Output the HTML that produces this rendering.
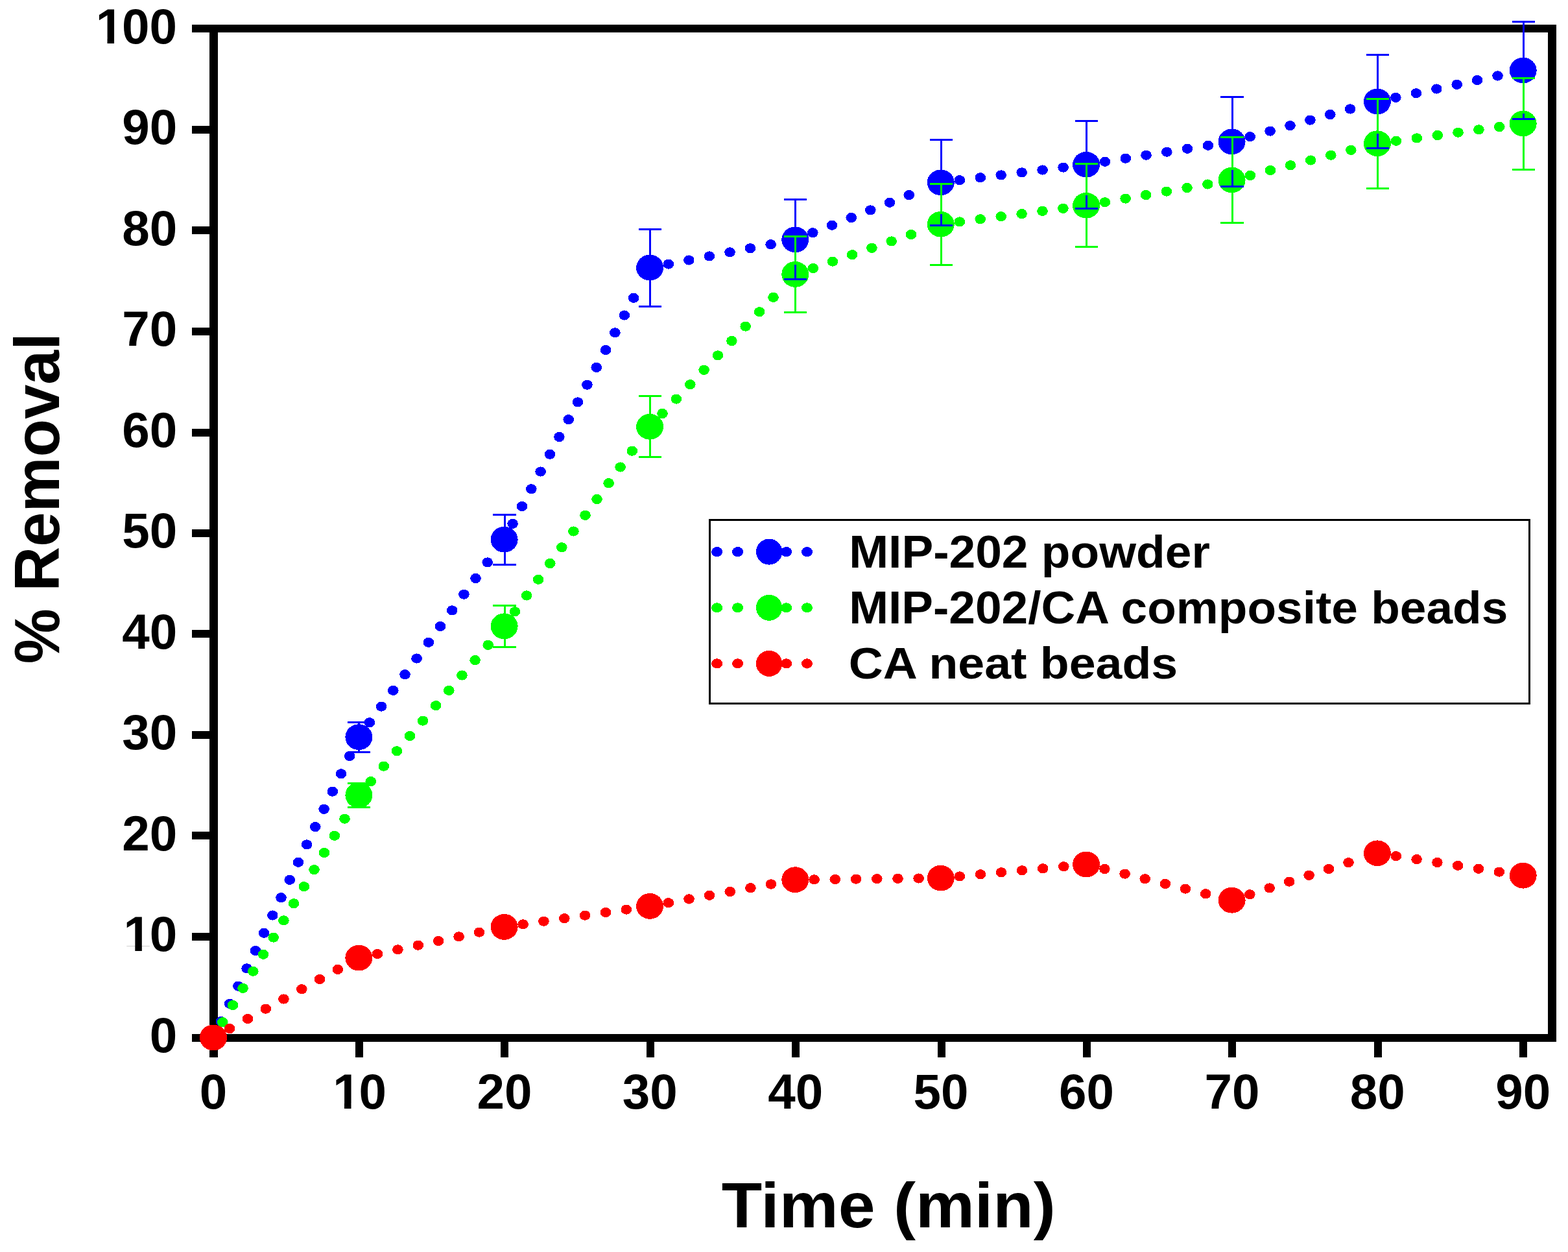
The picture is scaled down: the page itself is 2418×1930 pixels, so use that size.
<!DOCTYPE html>
<html lang="en"><head><meta charset="utf-8"><title>% Removal vs Time (min)</title>
<style>html,body{margin:0;padding:0;background:#fff}svg{display:block}</style></head>
<body>
<svg width="2418" height="1930" viewBox="0 0 2418 1930" shape-rendering="crispEdges" font-family="'Liberation Sans', sans-serif" font-weight="bold">
<defs><clipPath id="c1"><path d="M-5,-80H200V5H57V-10.6H39.9V5H26.1V-10.6H-5Z"/></clipPath></defs>
<rect width="2418" height="1930" fill="#fff"/>
<g fill="#000" shape-rendering="crispEdges">
<rect x="296" y="38" width="2104" height="12"/>
<rect x="296" y="1594" width="2104" height="12"/>
<rect x="323" y="38" width="13" height="1592"/>
<rect x="2387" y="38" width="13" height="1568"/>
<rect x="296" y="194" width="28" height="12"/>
<rect x="296" y="349" width="28" height="12"/>
<rect x="296" y="505" width="28" height="12"/>
<rect x="296" y="661" width="28" height="12"/>
<rect x="296" y="816" width="28" height="12"/>
<rect x="296" y="971" width="28" height="12"/>
<rect x="296" y="1127" width="28" height="12"/>
<rect x="296" y="1282" width="28" height="12"/>
<rect x="296" y="1438" width="28" height="12"/>
<rect x="548" y="1600" width="12" height="30"/>
<rect x="772" y="1600" width="12" height="30"/>
<rect x="997" y="1600" width="12" height="30"/>
<rect x="1221" y="1600" width="12" height="30"/>
<rect x="1446" y="1600" width="12" height="30"/>
<rect x="1670" y="1600" width="12" height="30"/>
<rect x="1894" y="1600" width="12" height="30"/>
<rect x="2119" y="1600" width="12" height="30"/>
<rect x="2343" y="1600" width="12" height="30"/>
</g>
<g fill="#000">
<text transform="matrix(0.76400 0 0 0.76408 145.57 66.94)" font-size="100" clip-path="url(#c1)"><tspan dx="2.8">1</tspan><tspan dx="-2.8">00</tspan></text>
<text transform="matrix(0.76400 0 0 0.76408 188.35 222.44)" font-size="100">90</text>
<text transform="matrix(0.76400 0 0 0.76408 188.35 377.94)" font-size="100">80</text>
<text transform="matrix(0.76400 0 0 0.76408 188.35 533.44)" font-size="100">70</text>
<text transform="matrix(0.76400 0 0 0.76408 188.35 688.94)" font-size="100">60</text>
<text transform="matrix(0.76400 0 0 0.76408 188.35 844.44)" font-size="100">50</text>
<text transform="matrix(0.76400 0 0 0.76408 188.35 999.94)" font-size="100">40</text>
<text transform="matrix(0.76400 0 0 0.76408 188.35 1155.44)" font-size="100">30</text>
<text transform="matrix(0.76400 0 0 0.76408 188.35 1310.94)" font-size="100">20</text>
<text transform="matrix(0.76400 0 0 0.76408 188.35 1466.44)" font-size="100" clip-path="url(#c1)"><tspan dx="2.8">1</tspan><tspan dx="-2.8">0</tspan></text>
<text transform="matrix(0.76400 0 0 0.76408 230.75 1621.94)" font-size="100">0</text>
<text transform="matrix(0.76400 0 0 0.76338 307.86 1709.04)" font-size="100">0</text>
<text transform="matrix(0.76400 0 0 0.76338 511.02 1709.04)" font-size="100" clip-path="url(#c1)"><tspan dx="2.8">1</tspan><tspan dx="-2.8">0</tspan></text>
<text transform="matrix(0.76400 0 0 0.76338 735.42 1709.04)" font-size="100">20</text>
<text transform="matrix(0.76400 0 0 0.76338 959.82 1709.04)" font-size="100">30</text>
<text transform="matrix(0.76400 0 0 0.76338 1184.22 1709.04)" font-size="100">40</text>
<text transform="matrix(0.76400 0 0 0.76338 1408.62 1709.04)" font-size="100">50</text>
<text transform="matrix(0.76400 0 0 0.76338 1633.02 1709.04)" font-size="100">60</text>
<text transform="matrix(0.76400 0 0 0.76338 1857.42 1709.04)" font-size="100">70</text>
<text transform="matrix(0.76400 0 0 0.76338 2081.82 1709.04)" font-size="100">80</text>
<text transform="matrix(0.76400 0 0 0.76338 2306.22 1709.04)" font-size="100">90</text>
<text transform="matrix(1.02229 0 0 0.97529 1112.78 1892.10)" font-size="100">Time (min)</text>
<text transform="matrix(0 -0.95630 0.98547 0 91.00 1023.29)" font-size="100">% Removal</text>
</g>
<g fill="#0000ff">
<ellipse cx="341.0" cy="1574.6" rx="8.3" ry="7.6"/>
<ellipse cx="354.2" cy="1547.3" rx="8.3" ry="7.6"/>
<ellipse cx="367.4" cy="1520.1" rx="8.3" ry="7.6"/>
<ellipse cx="380.6" cy="1492.8" rx="8.3" ry="7.6"/>
<ellipse cx="393.9" cy="1465.5" rx="8.3" ry="7.6"/>
<ellipse cx="407.1" cy="1438.3" rx="8.3" ry="7.6"/>
<ellipse cx="420.3" cy="1411.0" rx="8.3" ry="7.6"/>
<ellipse cx="433.5" cy="1383.7" rx="8.3" ry="7.6"/>
<ellipse cx="446.7" cy="1356.4" rx="8.3" ry="7.6"/>
<ellipse cx="459.9" cy="1329.2" rx="8.3" ry="7.6"/>
<ellipse cx="473.1" cy="1301.9" rx="8.3" ry="7.6"/>
<ellipse cx="486.3" cy="1274.6" rx="8.3" ry="7.6"/>
<ellipse cx="499.6" cy="1247.3" rx="8.3" ry="7.6"/>
<ellipse cx="512.8" cy="1220.1" rx="8.3" ry="7.6"/>
<ellipse cx="526.0" cy="1192.8" rx="8.3" ry="7.6"/>
<ellipse cx="539.2" cy="1165.5" rx="8.3" ry="7.6"/>
<ellipse cx="569.9" cy="1113.8" rx="8.3" ry="7.6"/>
<ellipse cx="588.1" cy="1089.1" rx="8.3" ry="7.6"/>
<ellipse cx="606.3" cy="1064.4" rx="8.3" ry="7.6"/>
<ellipse cx="624.5" cy="1039.7" rx="8.3" ry="7.6"/>
<ellipse cx="642.6" cy="1015.0" rx="8.3" ry="7.6"/>
<ellipse cx="660.8" cy="990.3" rx="8.3" ry="7.6"/>
<ellipse cx="679.0" cy="965.6" rx="8.3" ry="7.6"/>
<ellipse cx="697.2" cy="940.9" rx="8.3" ry="7.6"/>
<ellipse cx="715.4" cy="916.2" rx="8.3" ry="7.6"/>
<ellipse cx="733.5" cy="891.5" rx="8.3" ry="7.6"/>
<ellipse cx="751.7" cy="866.9" rx="8.3" ry="7.6"/>
<ellipse cx="790.6" cy="807.4" rx="8.3" ry="7.6"/>
<ellipse cx="805.0" cy="780.6" rx="8.3" ry="7.6"/>
<ellipse cx="819.3" cy="753.8" rx="8.3" ry="7.6"/>
<ellipse cx="833.7" cy="727.0" rx="8.3" ry="7.6"/>
<ellipse cx="848.0" cy="700.3" rx="8.3" ry="7.6"/>
<ellipse cx="862.4" cy="673.5" rx="8.3" ry="7.6"/>
<ellipse cx="876.7" cy="646.7" rx="8.3" ry="7.6"/>
<ellipse cx="891.0" cy="619.9" rx="8.3" ry="7.6"/>
<ellipse cx="905.4" cy="593.2" rx="8.3" ry="7.6"/>
<ellipse cx="919.7" cy="566.4" rx="8.3" ry="7.6"/>
<ellipse cx="934.1" cy="539.6" rx="8.3" ry="7.6"/>
<ellipse cx="948.4" cy="512.8" rx="8.3" ry="7.6"/>
<ellipse cx="962.8" cy="486.0" rx="8.3" ry="7.6"/>
<ellipse cx="977.1" cy="459.3" rx="8.3" ry="7.6"/>
<ellipse cx="1030.8" cy="407.1" rx="8.3" ry="7.6"/>
<ellipse cx="1062.3" cy="401.0" rx="8.3" ry="7.6"/>
<ellipse cx="1093.9" cy="394.9" rx="8.3" ry="7.6"/>
<ellipse cx="1125.5" cy="388.8" rx="8.3" ry="7.6"/>
<ellipse cx="1157.0" cy="382.7" rx="8.3" ry="7.6"/>
<ellipse cx="1188.6" cy="376.7" rx="8.3" ry="7.6"/>
<ellipse cx="1253.3" cy="358.8" rx="8.3" ry="7.6"/>
<ellipse cx="1283.0" cy="347.2" rx="8.3" ry="7.6"/>
<ellipse cx="1312.7" cy="335.5" rx="8.3" ry="7.6"/>
<ellipse cx="1342.3" cy="323.9" rx="8.3" ry="7.6"/>
<ellipse cx="1372.0" cy="312.2" rx="8.3" ry="7.6"/>
<ellipse cx="1401.7" cy="300.6" rx="8.3" ry="7.6"/>
<ellipse cx="1479.8" cy="277.7" rx="8.3" ry="7.6"/>
<ellipse cx="1511.8" cy="273.8" rx="8.3" ry="7.6"/>
<ellipse cx="1543.7" cy="269.9" rx="8.3" ry="7.6"/>
<ellipse cx="1575.7" cy="265.9" rx="8.3" ry="7.6"/>
<ellipse cx="1607.6" cy="262.0" rx="8.3" ry="7.6"/>
<ellipse cx="1639.6" cy="258.1" rx="8.3" ry="7.6"/>
<ellipse cx="1704.0" cy="249.2" rx="8.3" ry="7.6"/>
<ellipse cx="1735.8" cy="244.2" rx="8.3" ry="7.6"/>
<ellipse cx="1767.5" cy="239.2" rx="8.3" ry="7.6"/>
<ellipse cx="1799.3" cy="234.2" rx="8.3" ry="7.6"/>
<ellipse cx="1831.1" cy="229.2" rx="8.3" ry="7.6"/>
<ellipse cx="1862.9" cy="224.2" rx="8.3" ry="7.6"/>
<ellipse cx="1927.7" cy="210.7" rx="8.3" ry="7.6"/>
<ellipse cx="1958.6" cy="202.1" rx="8.3" ry="7.6"/>
<ellipse cx="1989.5" cy="193.6" rx="8.3" ry="7.6"/>
<ellipse cx="2020.4" cy="185.1" rx="8.3" ry="7.6"/>
<ellipse cx="2051.3" cy="176.5" rx="8.3" ry="7.6"/>
<ellipse cx="2082.1" cy="168.0" rx="8.3" ry="7.6"/>
<ellipse cx="2152.4" cy="150.4" rx="8.3" ry="7.6"/>
<ellipse cx="2183.9" cy="143.7" rx="8.3" ry="7.6"/>
<ellipse cx="2215.3" cy="137.0" rx="8.3" ry="7.6"/>
<ellipse cx="2246.7" cy="130.3" rx="8.3" ry="7.6"/>
<ellipse cx="2278.1" cy="123.6" rx="8.3" ry="7.6"/>
<ellipse cx="2309.5" cy="116.9" rx="8.3" ry="7.6"/>
</g>
<g fill="#00ff00">
<ellipse cx="343.3" cy="1575.7" rx="8.3" ry="7.6"/>
<ellipse cx="358.9" cy="1549.5" rx="8.3" ry="7.6"/>
<ellipse cx="374.6" cy="1523.4" rx="8.3" ry="7.6"/>
<ellipse cx="390.3" cy="1497.3" rx="8.3" ry="7.6"/>
<ellipse cx="406.0" cy="1471.2" rx="8.3" ry="7.6"/>
<ellipse cx="421.7" cy="1445.1" rx="8.3" ry="7.6"/>
<ellipse cx="437.4" cy="1418.9" rx="8.3" ry="7.6"/>
<ellipse cx="453.1" cy="1392.8" rx="8.3" ry="7.6"/>
<ellipse cx="468.8" cy="1366.7" rx="8.3" ry="7.6"/>
<ellipse cx="484.5" cy="1340.6" rx="8.3" ry="7.6"/>
<ellipse cx="500.1" cy="1314.5" rx="8.3" ry="7.6"/>
<ellipse cx="515.8" cy="1288.3" rx="8.3" ry="7.6"/>
<ellipse cx="531.5" cy="1262.2" rx="8.3" ry="7.6"/>
<ellipse cx="571.7" cy="1204.6" rx="8.3" ry="7.6"/>
<ellipse cx="591.8" cy="1181.2" rx="8.3" ry="7.6"/>
<ellipse cx="611.9" cy="1157.8" rx="8.3" ry="7.6"/>
<ellipse cx="632.0" cy="1134.5" rx="8.3" ry="7.6"/>
<ellipse cx="652.1" cy="1111.1" rx="8.3" ry="7.6"/>
<ellipse cx="672.2" cy="1087.7" rx="8.3" ry="7.6"/>
<ellipse cx="692.3" cy="1064.4" rx="8.3" ry="7.6"/>
<ellipse cx="712.5" cy="1041.0" rx="8.3" ry="7.6"/>
<ellipse cx="732.6" cy="1017.6" rx="8.3" ry="7.6"/>
<ellipse cx="752.7" cy="994.3" rx="8.3" ry="7.6"/>
<ellipse cx="794.0" cy="942.8" rx="8.3" ry="7.6"/>
<ellipse cx="812.1" cy="918.0" rx="8.3" ry="7.6"/>
<ellipse cx="830.2" cy="893.3" rx="8.3" ry="7.6"/>
<ellipse cx="848.3" cy="868.5" rx="8.3" ry="7.6"/>
<ellipse cx="866.3" cy="843.8" rx="8.3" ry="7.6"/>
<ellipse cx="884.4" cy="819.0" rx="8.3" ry="7.6"/>
<ellipse cx="902.5" cy="794.3" rx="8.3" ry="7.6"/>
<ellipse cx="920.5" cy="769.5" rx="8.3" ry="7.6"/>
<ellipse cx="938.6" cy="744.7" rx="8.3" ry="7.6"/>
<ellipse cx="956.7" cy="720.0" rx="8.3" ry="7.6"/>
<ellipse cx="974.8" cy="695.2" rx="8.3" ry="7.6"/>
<ellipse cx="1021.5" cy="637.5" rx="8.3" ry="7.6"/>
<ellipse cx="1042.9" cy="615.1" rx="8.3" ry="7.6"/>
<ellipse cx="1064.3" cy="592.7" rx="8.3" ry="7.6"/>
<ellipse cx="1085.6" cy="570.3" rx="8.3" ry="7.6"/>
<ellipse cx="1107.0" cy="547.9" rx="8.3" ry="7.6"/>
<ellipse cx="1128.4" cy="525.5" rx="8.3" ry="7.6"/>
<ellipse cx="1149.7" cy="503.1" rx="8.3" ry="7.6"/>
<ellipse cx="1171.1" cy="480.7" rx="8.3" ry="7.6"/>
<ellipse cx="1192.5" cy="458.4" rx="8.3" ry="7.6"/>
<ellipse cx="1253.8" cy="413.5" rx="8.3" ry="7.6"/>
<ellipse cx="1284.0" cy="403.1" rx="8.3" ry="7.6"/>
<ellipse cx="1314.2" cy="392.7" rx="8.3" ry="7.6"/>
<ellipse cx="1344.4" cy="382.3" rx="8.3" ry="7.6"/>
<ellipse cx="1374.7" cy="371.9" rx="8.3" ry="7.6"/>
<ellipse cx="1404.9" cy="361.5" rx="8.3" ry="7.6"/>
<ellipse cx="1479.8" cy="341.9" rx="8.3" ry="7.6"/>
<ellipse cx="1511.7" cy="337.8" rx="8.3" ry="7.6"/>
<ellipse cx="1543.7" cy="333.7" rx="8.3" ry="7.6"/>
<ellipse cx="1575.6" cy="329.6" rx="8.3" ry="7.6"/>
<ellipse cx="1607.5" cy="325.4" rx="8.3" ry="7.6"/>
<ellipse cx="1639.4" cy="321.3" rx="8.3" ry="7.6"/>
<ellipse cx="1703.9" cy="311.7" rx="8.3" ry="7.6"/>
<ellipse cx="1735.6" cy="306.1" rx="8.3" ry="7.6"/>
<ellipse cx="1767.2" cy="300.6" rx="8.3" ry="7.6"/>
<ellipse cx="1798.9" cy="295.1" rx="8.3" ry="7.6"/>
<ellipse cx="1830.6" cy="289.5" rx="8.3" ry="7.6"/>
<ellipse cx="1862.3" cy="284.0" rx="8.3" ry="7.6"/>
<ellipse cx="1927.9" cy="270.4" rx="8.3" ry="7.6"/>
<ellipse cx="1959.0" cy="262.6" rx="8.3" ry="7.6"/>
<ellipse cx="1990.1" cy="254.8" rx="8.3" ry="7.6"/>
<ellipse cx="2021.2" cy="247.0" rx="8.3" ry="7.6"/>
<ellipse cx="2052.3" cy="239.2" rx="8.3" ry="7.6"/>
<ellipse cx="2083.4" cy="231.4" rx="8.3" ry="7.6"/>
<ellipse cx="2152.9" cy="217.2" rx="8.3" ry="7.6"/>
<ellipse cx="2184.8" cy="212.9" rx="8.3" ry="7.6"/>
<ellipse cx="2216.7" cy="208.5" rx="8.3" ry="7.6"/>
<ellipse cx="2248.5" cy="204.2" rx="8.3" ry="7.6"/>
<ellipse cx="2280.4" cy="199.8" rx="8.3" ry="7.6"/>
<ellipse cx="2312.3" cy="195.5" rx="8.3" ry="7.6"/>
</g>
<g fill="#ff0000">
<ellipse cx="354.2" cy="1585.6" rx="8.3" ry="7.6"/>
<ellipse cx="382.0" cy="1570.4" rx="8.3" ry="7.6"/>
<ellipse cx="409.8" cy="1555.2" rx="8.3" ry="7.6"/>
<ellipse cx="437.5" cy="1540.0" rx="8.3" ry="7.6"/>
<ellipse cx="465.3" cy="1524.8" rx="8.3" ry="7.6"/>
<ellipse cx="493.0" cy="1509.6" rx="8.3" ry="7.6"/>
<ellipse cx="520.8" cy="1494.4" rx="8.3" ry="7.6"/>
<ellipse cx="582.0" cy="1470.5" rx="8.3" ry="7.6"/>
<ellipse cx="613.4" cy="1463.8" rx="8.3" ry="7.6"/>
<ellipse cx="644.8" cy="1457.2" rx="8.3" ry="7.6"/>
<ellipse cx="676.2" cy="1450.5" rx="8.3" ry="7.6"/>
<ellipse cx="707.6" cy="1443.8" rx="8.3" ry="7.6"/>
<ellipse cx="739.0" cy="1437.1" rx="8.3" ry="7.6"/>
<ellipse cx="806.6" cy="1424.8" rx="8.3" ry="7.6"/>
<ellipse cx="838.4" cy="1420.2" rx="8.3" ry="7.6"/>
<ellipse cx="870.3" cy="1415.7" rx="8.3" ry="7.6"/>
<ellipse cx="902.1" cy="1411.1" rx="8.3" ry="7.6"/>
<ellipse cx="934.0" cy="1406.6" rx="8.3" ry="7.6"/>
<ellipse cx="965.8" cy="1402.1" rx="8.3" ry="7.6"/>
<ellipse cx="1030.8" cy="1391.7" rx="8.3" ry="7.6"/>
<ellipse cx="1062.5" cy="1385.9" rx="8.3" ry="7.6"/>
<ellipse cx="1094.1" cy="1380.2" rx="8.3" ry="7.6"/>
<ellipse cx="1125.7" cy="1374.5" rx="8.3" ry="7.6"/>
<ellipse cx="1157.4" cy="1368.7" rx="8.3" ry="7.6"/>
<ellipse cx="1189.0" cy="1363.0" rx="8.3" ry="7.6"/>
<ellipse cx="1255.6" cy="1355.9" rx="8.3" ry="7.6"/>
<ellipse cx="1287.8" cy="1355.5" rx="8.3" ry="7.6"/>
<ellipse cx="1320.1" cy="1355.1" rx="8.3" ry="7.6"/>
<ellipse cx="1352.3" cy="1354.7" rx="8.3" ry="7.6"/>
<ellipse cx="1384.5" cy="1354.4" rx="8.3" ry="7.6"/>
<ellipse cx="1416.7" cy="1354.0" rx="8.3" ry="7.6"/>
<ellipse cx="1479.9" cy="1350.9" rx="8.3" ry="7.6"/>
<ellipse cx="1512.0" cy="1347.8" rx="8.3" ry="7.6"/>
<ellipse cx="1544.1" cy="1344.8" rx="8.3" ry="7.6"/>
<ellipse cx="1576.1" cy="1341.8" rx="8.3" ry="7.6"/>
<ellipse cx="1608.2" cy="1338.8" rx="8.3" ry="7.6"/>
<ellipse cx="1640.3" cy="1335.8" rx="8.3" ry="7.6"/>
<ellipse cx="1703.4" cy="1339.5" rx="8.3" ry="7.6"/>
<ellipse cx="1734.6" cy="1347.1" rx="8.3" ry="7.6"/>
<ellipse cx="1765.7" cy="1354.8" rx="8.3" ry="7.6"/>
<ellipse cx="1796.9" cy="1362.4" rx="8.3" ry="7.6"/>
<ellipse cx="1828.0" cy="1370.1" rx="8.3" ry="7.6"/>
<ellipse cx="1859.2" cy="1377.8" rx="8.3" ry="7.6"/>
<ellipse cx="1927.3" cy="1378.8" rx="8.3" ry="7.6"/>
<ellipse cx="1957.7" cy="1368.9" rx="8.3" ry="7.6"/>
<ellipse cx="1988.2" cy="1359.1" rx="8.3" ry="7.6"/>
<ellipse cx="2018.6" cy="1349.3" rx="8.3" ry="7.6"/>
<ellipse cx="2049.0" cy="1339.5" rx="8.3" ry="7.6"/>
<ellipse cx="2079.5" cy="1329.6" rx="8.3" ry="7.6"/>
<ellipse cx="2152.8" cy="1319.7" rx="8.3" ry="7.6"/>
<ellipse cx="2184.6" cy="1324.6" rx="8.3" ry="7.6"/>
<ellipse cx="2216.4" cy="1329.5" rx="8.3" ry="7.6"/>
<ellipse cx="2248.2" cy="1334.3" rx="8.3" ry="7.6"/>
<ellipse cx="2280.0" cy="1339.2" rx="8.3" ry="7.6"/>
<ellipse cx="2311.8" cy="1344.1" rx="8.3" ry="7.6"/>
</g>
<g fill="#0000ff">
<ellipse cx="329.0" cy="1599.4" rx="21.0" ry="19.9"/>
<ellipse cx="553.4" cy="1136.2" rx="21.0" ry="19.9"/>
<ellipse cx="777.6" cy="831.7" rx="21.0" ry="19.9"/>
<ellipse cx="1002.1" cy="412.6" rx="21.0" ry="19.9"/>
<ellipse cx="1226.3" cy="369.4" rx="21.0" ry="19.9"/>
<ellipse cx="1450.8" cy="281.3" rx="21.0" ry="19.9"/>
<ellipse cx="1675.1" cy="253.7" rx="21.0" ry="19.9"/>
<ellipse cx="1899.6" cy="218.4" rx="21.0" ry="19.9"/>
<ellipse cx="2123.9" cy="156.5" rx="21.0" ry="19.9"/>
<ellipse cx="2348.7" cy="108.5" rx="21.0" ry="19.9"/>
</g>
<g fill="#00ff00">
<ellipse cx="329.0" cy="1599.4" rx="21.0" ry="19.9"/>
<ellipse cx="553.4" cy="1225.8" rx="21.0" ry="19.9"/>
<ellipse cx="777.6" cy="965.3" rx="21.0" ry="19.9"/>
<ellipse cx="1002.1" cy="657.8" rx="21.0" ry="19.9"/>
<ellipse cx="1226.3" cy="422.9" rx="21.0" ry="19.9"/>
<ellipse cx="1450.8" cy="345.7" rx="21.0" ry="19.9"/>
<ellipse cx="1675.1" cy="316.7" rx="21.0" ry="19.9"/>
<ellipse cx="1899.6" cy="277.5" rx="21.0" ry="19.9"/>
<ellipse cx="2123.9" cy="221.2" rx="21.0" ry="19.9"/>
<ellipse cx="2348.7" cy="190.5" rx="21.0" ry="19.9"/>
</g>
<g fill="#ff0000">
<ellipse cx="329.0" cy="1599.4" rx="21.0" ry="19.9"/>
<ellipse cx="553.4" cy="1476.6" rx="21.0" ry="19.9"/>
<ellipse cx="777.6" cy="1428.9" rx="21.0" ry="19.9"/>
<ellipse cx="1002.1" cy="1396.9" rx="21.0" ry="19.9"/>
<ellipse cx="1226.3" cy="1356.2" rx="21.0" ry="19.9"/>
<ellipse cx="1450.8" cy="1353.6" rx="21.0" ry="19.9"/>
<ellipse cx="1675.1" cy="1332.5" rx="21.0" ry="19.9"/>
<ellipse cx="1899.6" cy="1387.7" rx="21.0" ry="19.9"/>
<ellipse cx="2123.9" cy="1315.3" rx="21.0" ry="19.9"/>
<ellipse cx="2348.7" cy="1349.7" rx="21.0" ry="19.9"/>
</g>
<g fill="#0000ff" shape-rendering="crispEdges">
<rect x="552.3" y="1113.0" width="3" height="7.9"/>
<rect x="552.3" y="1151.5" width="3" height="7.9"/>
<rect x="536.2" y="1111.5" width="35.2" height="3"/>
<rect x="536.2" y="1157.9" width="35.2" height="3"/>
<rect x="776.5" y="793.3" width="3" height="23.1"/>
<rect x="776.5" y="847.0" width="3" height="23.1"/>
<rect x="760.4" y="791.8" width="35.2" height="3"/>
<rect x="760.4" y="868.6" width="35.2" height="3"/>
<rect x="1001.0" y="353.2" width="3" height="44.1"/>
<rect x="1001.0" y="427.9" width="3" height="44.1"/>
<rect x="984.9" y="351.7" width="35.2" height="3"/>
<rect x="984.9" y="470.5" width="35.2" height="3"/>
<rect x="1225.2" y="307.9" width="3" height="46.2"/>
<rect x="1225.2" y="384.7" width="3" height="46.2"/>
<rect x="1209.1" y="306.4" width="35.2" height="3"/>
<rect x="1209.1" y="429.4" width="35.2" height="3"/>
<rect x="1449.7" y="215.4" width="3" height="50.6"/>
<rect x="1449.7" y="296.6" width="3" height="50.6"/>
<rect x="1433.6" y="213.9" width="35.2" height="3"/>
<rect x="1433.6" y="345.7" width="35.2" height="3"/>
<rect x="1674.0" y="186.4" width="3" height="52.0"/>
<rect x="1674.0" y="269.0" width="3" height="52.0"/>
<rect x="1657.9" y="184.9" width="35.2" height="3"/>
<rect x="1657.9" y="319.5" width="35.2" height="3"/>
<rect x="1898.5" y="149.3" width="3" height="53.8"/>
<rect x="1898.5" y="233.7" width="3" height="53.8"/>
<rect x="1882.4" y="147.8" width="35.2" height="3"/>
<rect x="1882.4" y="286.0" width="35.2" height="3"/>
<rect x="2122.8" y="84.3" width="3" height="56.9"/>
<rect x="2122.8" y="171.8" width="3" height="56.9"/>
<rect x="2106.7" y="82.8" width="35.2" height="3"/>
<rect x="2106.7" y="227.2" width="35.2" height="3"/>
<rect x="2347.6" y="33.9" width="3" height="59.3"/>
<rect x="2347.6" y="123.8" width="3" height="59.3"/>
<rect x="2331.5" y="32.4" width="35.2" height="3"/>
<rect x="2331.5" y="181.6" width="35.2" height="3"/>
</g>
<g fill="#00ff00" shape-rendering="crispEdges">
<rect x="552.3" y="1207.1" width="3" height="3.4"/>
<rect x="552.3" y="1241.1" width="3" height="3.4"/>
<rect x="536.2" y="1205.6" width="35.2" height="3"/>
<rect x="536.2" y="1243.0" width="35.2" height="3"/>
<rect x="776.5" y="933.6" width="3" height="16.4"/>
<rect x="776.5" y="980.6" width="3" height="16.4"/>
<rect x="760.4" y="932.1" width="35.2" height="3"/>
<rect x="760.4" y="995.5" width="35.2" height="3"/>
<rect x="1001.0" y="610.7" width="3" height="31.8"/>
<rect x="1001.0" y="673.1" width="3" height="31.8"/>
<rect x="984.9" y="609.2" width="35.2" height="3"/>
<rect x="984.9" y="703.4" width="35.2" height="3"/>
<rect x="1225.2" y="364.0" width="3" height="43.6"/>
<rect x="1225.2" y="438.2" width="3" height="43.6"/>
<rect x="1209.1" y="362.5" width="35.2" height="3"/>
<rect x="1209.1" y="480.3" width="35.2" height="3"/>
<rect x="1449.7" y="283.0" width="3" height="47.4"/>
<rect x="1449.7" y="361.0" width="3" height="47.4"/>
<rect x="1433.6" y="281.5" width="35.2" height="3"/>
<rect x="1433.6" y="406.9" width="35.2" height="3"/>
<rect x="1674.0" y="252.5" width="3" height="48.9"/>
<rect x="1674.0" y="332.0" width="3" height="48.9"/>
<rect x="1657.9" y="251.0" width="35.2" height="3"/>
<rect x="1657.9" y="379.4" width="35.2" height="3"/>
<rect x="1898.5" y="211.4" width="3" height="50.8"/>
<rect x="1898.5" y="292.8" width="3" height="50.8"/>
<rect x="1882.4" y="209.9" width="35.2" height="3"/>
<rect x="1882.4" y="342.1" width="35.2" height="3"/>
<rect x="2122.8" y="152.3" width="3" height="53.6"/>
<rect x="2122.8" y="236.5" width="3" height="53.6"/>
<rect x="2106.7" y="150.8" width="35.2" height="3"/>
<rect x="2106.7" y="288.6" width="35.2" height="3"/>
<rect x="2347.6" y="120.0" width="3" height="55.2"/>
<rect x="2347.6" y="205.8" width="3" height="55.2"/>
<rect x="2331.5" y="118.5" width="35.2" height="3"/>
<rect x="2331.5" y="259.5" width="35.2" height="3"/>
</g>
<rect x="1094.5" y="801.5" width="1263.5" height="283" fill="#fff" stroke="#000" stroke-width="3" shape-rendering="crispEdges"/>
<g fill="#0000ff">
<ellipse cx="1105.6" cy="850.6" rx="8.5" ry="7.6"/>
<ellipse cx="1137.55" cy="850.6" rx="8.5" ry="7.6"/>
<ellipse cx="1212.6" cy="850.6" rx="8.5" ry="7.6"/>
<ellipse cx="1244.5" cy="850.6" rx="8.5" ry="7.6"/>
<ellipse cx="1186.1" cy="850.6" rx="20.2" ry="20"/>
</g>
<g fill="#00ff00">
<ellipse cx="1105.6" cy="936.8" rx="8.5" ry="7.6"/>
<ellipse cx="1137.55" cy="936.8" rx="8.5" ry="7.6"/>
<ellipse cx="1212.6" cy="936.8" rx="8.5" ry="7.6"/>
<ellipse cx="1244.5" cy="936.8" rx="8.5" ry="7.6"/>
<ellipse cx="1186.1" cy="936.8" rx="20.2" ry="20"/>
</g>
<g fill="#ff0000">
<ellipse cx="1105.6" cy="1022.9" rx="8.5" ry="7.6"/>
<ellipse cx="1137.55" cy="1022.9" rx="8.5" ry="7.6"/>
<ellipse cx="1212.6" cy="1022.9" rx="8.5" ry="7.6"/>
<ellipse cx="1244.5" cy="1022.9" rx="8.5" ry="7.6"/>
<ellipse cx="1186.1" cy="1022.9" rx="20.2" ry="20"/>
</g>
<g fill="#000">
<text transform="matrix(0.73139 0 0 0.70580 1309.15 874.80)" font-size="100">MIP-202 powder</text>
<text transform="matrix(0.73060 0 0 0.70725 1309.15 960.90)" font-size="100">MIP-202/CA composite beads</text>
<text transform="matrix(0.73451 0 0 0.68252 1308.76 1046.22)" font-size="100">CA neat beads</text>
</g>
</svg>
</body></html>
